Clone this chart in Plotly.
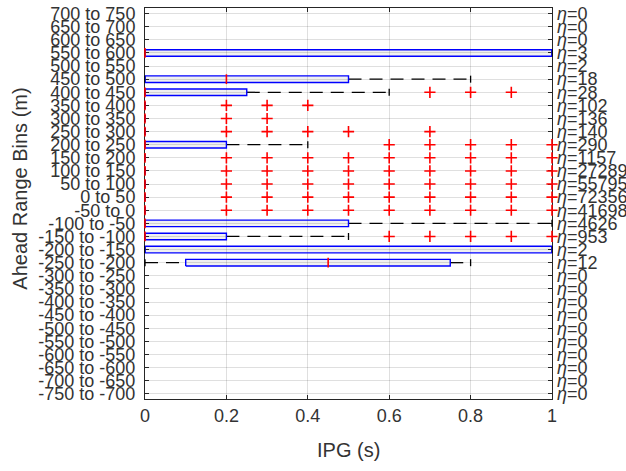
import plotly.graph_objects as go

# ---- data (top row first) ----
bin_labels = ["700 to 750", "650 to 700", "600 to 650", "550 to 600", "500 to 550",
              "450 to 500", "400 to 450", "350 to 400", "300 to 350", "250 to 300",
              "200 to 250", "150 to 200", "100 to 150", "50 to 100", "0 to 50",
              "-50 to 0", "-100 to -50", "-150 to -100", "-200 to -150", "-250 to -200",
              "-300 to -250", "-350 to -300", "-400 to -350", "-450 to -400", "-500 to -450",
              "-550 to -500", "-600 to -550", "-650 to -600", "-700 to -650", "-750 to -700"]
counts = [0, 0, 0, 3, 2, 18, 28, 102, 136, 140, 290, 1157, 27289, 55795, 72356,
          41698, 4626, 953, 2, 12, 0, 0, 0, 0, 0, 0, 0, 0, 0, 0]
# box statistics per row (None = nothing drawn)
q1 =      [None, None, None, 0.0, None, 0.0, 0.0, 0.0, 0.0, 0.0, 0.0, 0.0, 0.0, 0.0, 0.0,
           0.0, 0.0, 0.0, 0.0, 0.10] + [None] * 10
median =  [None, None, None, 0.0, None, 0.2, 0.0, 0.0, 0.0, 0.0, 0.0, 0.0, 0.0, 0.0, 0.0,
           0.0, 0.0, 0.0, None, 0.45] + [None] * 10
q3 =      [None, None, None, 1.0, None, 0.5, 0.25, 0.0, 0.0, 0.0, 0.2, 0.0, 0.0, 0.0, 0.0,
           0.0, 0.5, 0.2, 1.0, 0.75] + [None] * 10
lower_wh = [None, None, None, 0.0, None, 0.0, 0.0, 0.0, 0.0, 0.0, 0.0, 0.0, 0.0, 0.0, 0.0,
            0.0, 0.0, 0.0, 0.0, 0.0] + [None] * 10
upper_wh = [None, None, None, 1.0, None, 0.8, 0.6, 0.0, 0.0, 0.0, 0.4, 0.0, 0.0, 0.0, 0.0,
            0.0, 1.0, 0.5, 1.0, 0.8] + [None] * 10
full_out = [0.2, 0.3, 0.4, 0.5, 0.6, 0.7, 0.8, 0.9, 1.0]
outliers = [[], [], [], [], [], [], [0.7, 0.8, 0.9], [0.2, 0.3, 0.4], [0.2, 0.3],
            [0.2, 0.3, 0.4, 0.5, 0.7], [0.6, 0.7, 0.8, 0.9, 1.0],
            full_out, full_out, full_out, full_out, full_out, [],
            [0.6, 0.7, 0.8, 0.9, 1.0], [], []] + [[] for _ in range(10)]
x_ticks = [0, 0.2, 0.4, 0.6, 0.8, 1]
x_ticktext = ["0", "0.2", "0.4", "0.6", "0.8", "1"]

n = len(bin_labels)
pos = [n - i for i in range(n)]
H = 0.25   # box half height
TXT = "#333333"
FONT = "Liberation Sans, Arial, Helvetica, sans-serif"

bx, by, wx, wy, cx, cy, mx, my, ox, oy = [], [], [], [], [], [], [], [], [], []
for i, p in enumerate(pos):
    if q1[i] is not None:
        bx += [q1[i], q3[i], q3[i], q1[i], q1[i], None]
        by += [p - H, p - H, p + H, p + H, p - H, None]
        wx += [q3[i], upper_wh[i], None, lower_wh[i], q1[i], None]
        wy += [p, p, None, p, p, None]
        cx += [lower_wh[i], upper_wh[i]]
        cy += [p, p]
    if median[i] is not None:
        mx.append(median[i]); my.append(p)
    for v in outliers[i]:
        ox.append(v); oy.append(p)

fig = go.Figure()
fig.add_trace(go.Scatter(x=wx, y=wy, mode="lines",
                         line=dict(color="black", width=1.3, dash="13px,8px"),
                         hoverinfo="skip", showlegend=False))
fig.add_trace(go.Scatter(x=cx, y=cy, mode="markers", cliponaxis=False,
                         marker=dict(symbol="line-ns-open", size=5, color="black",
                                     line=dict(color="black", width=1.3)),
                         hoverinfo="skip", showlegend=False))
fig.add_trace(go.Scatter(x=bx, y=by, mode="lines", fill="toself",
                         fillcolor="rgba(0,0,0,0.06)",
                         line=dict(color="#0000ff", width=1.4),
                         hoverinfo="skip", showlegend=False))
fig.add_trace(go.Scatter(x=mx, y=my, mode="markers", cliponaxis=False,
                         marker=dict(symbol="line-ns-open", size=7, color="#ff0000",
                                     line=dict(color="#ff0000", width=1.6)),
                         hoverinfo="skip", showlegend=False))
fig.add_trace(go.Scatter(x=ox, y=oy, mode="markers", cliponaxis=False,
                         marker=dict(symbol="cross-thin-open", size=8, color="#ff0000",
                                     line=dict(color="#ff0000", width=1.6)),
                         hoverinfo="skip", showlegend=False))
fig.add_trace(go.Scatter(x=[0], y=[1], yaxis="y2", mode="markers",
                         marker=dict(opacity=0), hoverinfo="skip", showlegend=False))

yrange = [0.6, 30.43]
grid = "rgba(38,38,38,0.15)"
fig.update_layout(
    width=626, height=471,
    margin=dict(l=145, r=74, t=8, b=72, autoexpand=False),
    paper_bgcolor="white", plot_bgcolor="white",
    font=dict(family=FONT, color=TXT, size=18),
    xaxis=dict(range=[0, 1], tickvals=x_ticks, ticktext=x_ticktext, automargin=False,
               showgrid=True, gridcolor=grid, zeroline=False,
               showline=True, linecolor="#262626", linewidth=1, mirror="ticks",
               ticks="inside", ticklen=4, tickcolor="#262626",
               tickfont=dict(size=18, color=TXT), layer="below traces"),
    yaxis=dict(range=yrange, tickvals=pos, ticktext=bin_labels, automargin=False,
               showgrid=True, gridcolor=grid, zeroline=False, ticklabeloverflow="allow",
               showline=True, linecolor="#262626", linewidth=1, mirror=True,
               ticks="inside", ticklen=4, tickcolor="#262626", ticklabelstandoff=5,
               tickfont=dict(size=18, color=TXT), layer="below traces"),
    yaxis2=dict(range=yrange, overlaying="y", side="right", automargin=False,
                tickvals=pos, ticktext=["<i>η</i>=%d" % c for c in counts],
                showgrid=False, zeroline=False, showline=False, ticklabeloverflow="allow",
                ticks="inside", ticklen=4, tickcolor="#262626", ticklabelstandoff=4,
                tickfont=dict(size=18, color=TXT), layer="below traces"),
    annotations=[
        dict(text="IPG (s)", xref="paper", yref="paper", x=0.5, y=-0.13,
             xanchor="center", yanchor="middle", showarrow=False,
             font=dict(size=20, color=TXT)),
        dict(text="Ahead Range Bins (m)", xref="paper", yref="paper", x=-0.307, y=0.538,
             xanchor="center", yanchor="middle", textangle=-90, showarrow=False,
             font=dict(size=20, color=TXT)),
    ],
)

fig.write_html("out.html", config={"displayModeBar": False},
               post_script="document.body.style.margin='0';document.body.style.overflow='hidden';")
